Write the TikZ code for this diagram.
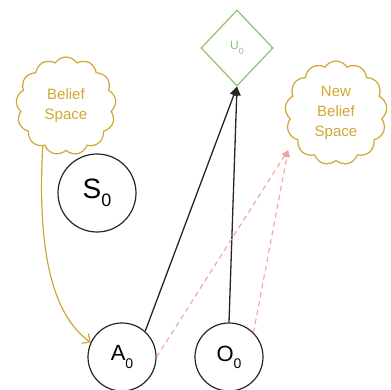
\documentclass[tikz,border=0pt]{standalone}
\usepackage{fontspec}
\setmainfont{Liberation Sans}
\usetikzlibrary{shapes.geometric,shapes.symbols,arrows.meta}
\definecolor{gold}{HTML}{D0A730}
\definecolor{leaf}{HTML}{8CC27A}
\definecolor{rose}{HTML}{F2A0A0}
\newcommand{\lowidx}[2]{\raisebox{-#1pt}{\fontsize{#2}{#2}\selectfont 0}}
\begin{document}
\begin{tikzpicture}[x=1pt,y=-1pt,
  state/.style={circle,draw=black!85,line width=1.2pt,inner sep=0pt},
  thought/.style={cloud,cloud puffs=13,cloud puff arc=115,aspect=1,draw=gold,
    line width=1.2pt,text=gold,align=center,inner sep=0pt,
    font=\fontsize{15}{20}\selectfont},
  utility/.style={diamond,draw=leaf,line width=1.2pt,inner sep=0pt,text=leaf,
    minimum width=72pt,minimum height=76pt,font=\fontsize{12}{12}\selectfont},
  link/.style={draw=black!85,line width=1.3pt,-{Triangle[length=9pt,width=8pt]}},
  hint/.style={draw=rose,line width=1.1pt,dash pattern=on 5pt off 4pt,
    -{Triangle[length=7pt,width=6pt]}},
  drift/.style={draw=gold,line width=1.2pt,-{Straight Barb[length=6pt,width=12pt]}}]
\useasboundingbox (0,0) rectangle (391,390);

% belief clouds
\node[thought,minimum width=100pt,minimum height=98pt] (B) at (66,106) {Belief\\Space};
\node[thought,minimum width=102pt,minimum height=104pt] (NB) at (336,113) {New\\Belief\\Space};

% state, action and observation nodes
\node[state,minimum size=78pt,font=\fontsize{28}{28}\selectfont] (S) at (97,193) {S\lowidx{8}{18}};
\node[state,minimum size=68pt,font=\fontsize{22}{22}\selectfont] (A) at (122,357) {A\lowidx{7}{14}};
\node[state,minimum size=68pt,font=\fontsize{22}{22}\selectfont] (O) at (229,357) {O\lowidx{7}{14}};

% utility node
\node[utility] (U) at (237,48) {U\lowidx{5}{9}};

% connectors
\draw[link] (A.48) -- (U.south);
\draw[link] (O.north) -- (U.south);
\draw[hint] (A.east) -- ([xshift=-10pt,yshift=-3pt]NB.222);
\draw[hint] (O.45) -- ([xshift=-10pt,yshift=-3pt]NB.222);
\draw[drift] (B.240) .. controls (37,250) and (52,315) .. (A.155);
\end{tikzpicture}
\end{document}
